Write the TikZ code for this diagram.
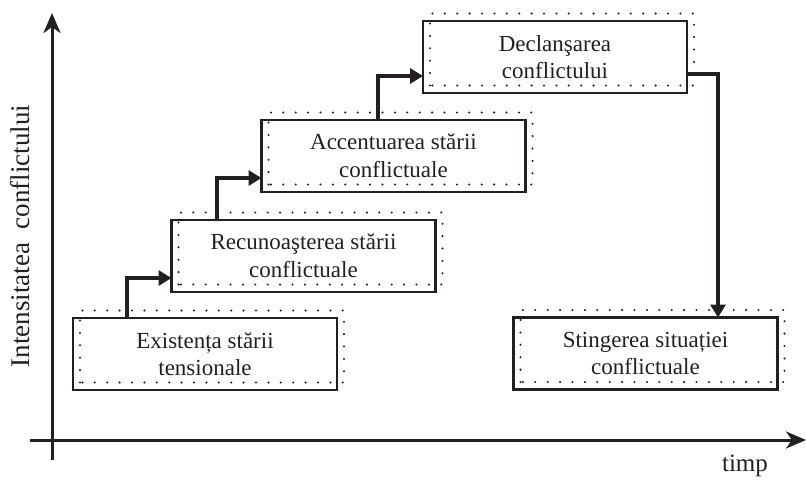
\documentclass[tikz,border=0pt]{standalone}
\usepackage{fontspec}
\setmainfont{Liberation Serif}
\usetikzlibrary{arrows.meta}
\definecolor{ink}{HTML}{231F20}
\tikzset{
  stagebox/.style={draw=ink,line width=2.5pt,minimum width=264pt,minimum height=72pt,
    inner sep=0pt,outer sep=0pt,align=center,text=ink,font=\fontsize{23}{27.5}\selectfont},
  dotbox/.style={draw=ink,line width=2.3pt,line cap=round,dash pattern=on 0pt off 12.4pt},
  conn/.style={draw=ink,line width=3.5pt,-{Triangle[length=13pt,width=15pt]}},
  axisline/.style={draw=ink,line width=3pt,-{Stealth[length=20pt,width=17pt,inset=6pt]}},
  axislabel/.style={text=ink,font=\fontsize{25}{30}\selectfont,inner sep=0pt}
}
\begin{document}
\begin{tikzpicture}[x=1pt,y=-1pt]
\useasboundingbox (0,0) rectangle (806,480);
\newcommand{\dotframe}[1]{\draw[dotbox] ([shift={(7,-7.5)}]#1.south west) rectangle ([shift={(7,-7.5)}]#1.north east);}
\node[stagebox] (b1) at (205,354) {Existența stării\\tensionale};
\node[stagebox] (b2) at (303.5,256) {Recunoaşterea stării\\conflictuale};
\node[stagebox] (b3) at (393.5,156) {Accentuarea stării\\conflictuale};
\node[stagebox] (b4) at (555,57) {Declanşarea\\conflictului};
\node[stagebox] (b5) at (645.5,353.5) {Stingerea situației\\conflictuale};
\dotframe{b1}\dotframe{b2}\dotframe{b3}\dotframe{b4}\dotframe{b5}
% axes
\coordinate (yb) at (52,460);
\coordinate (yt) at (52,13);
\coordinate (xl) at (30,440);
\coordinate (xr) at (806,440);
\draw[axisline] (yb) -- (yt);
\draw[axisline] (xl) -- (xr);
\node[axislabel,font=\fontsize{27}{30}\selectfont,rotate=90] (ylab) at (20,236) {Intensitatea\ \ conflictului};
\node[axislabel] (xlab) at (745,466) {timp};
% connectors
\coordinate (k1) at (127,278);
\coordinate (k2) at (217,178);
\coordinate (k3) at (378,76);
\coordinate (k4) at (718,74);
\draw[conn] (b1.north -| k1) |- (b2.west |- k1);
\draw[conn] (b2.north -| k2) |- (b3.west |- k2);
\draw[conn] (b3.north -| k3) |- (b4.west |- k3);
\draw[conn] (b4.east |- k4) -| (b5.north -| k4);
\end{tikzpicture}
\end{document}
